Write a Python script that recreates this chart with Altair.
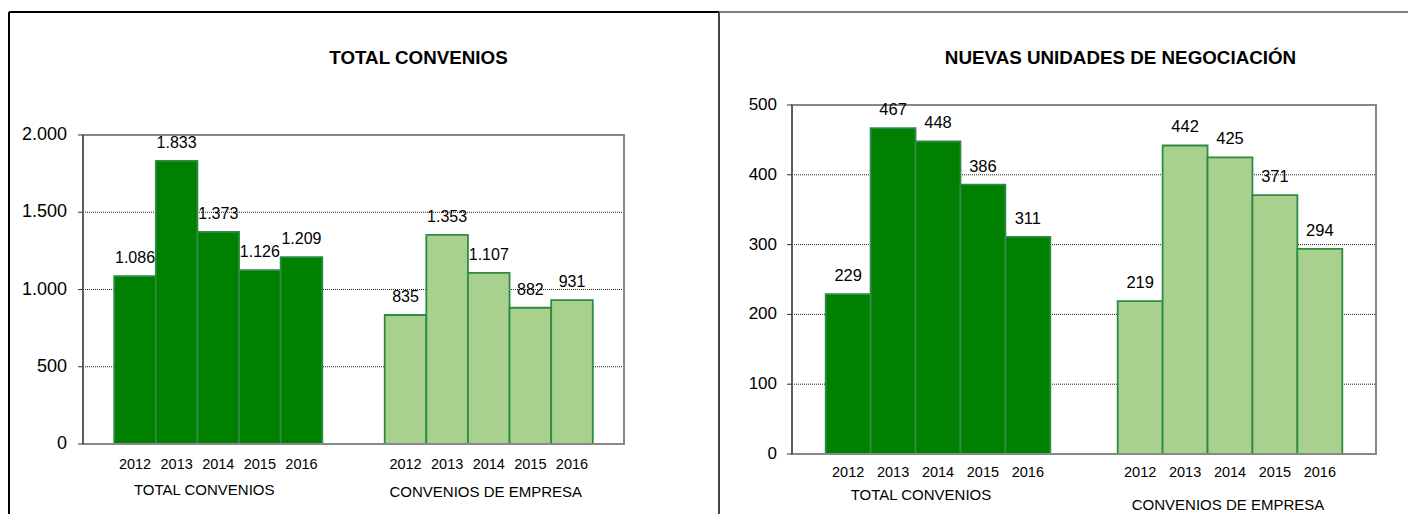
import altair as alt
import pandas as pd

# ---- data ----
years = ["2012", "2013", "2014", "2015", "2016"]
groups = ["TOTAL CONVENIOS", "CONVENIOS DE EMPRESA"]
total_convenios = [1086, 1833, 1373, 1126, 1209]
convenios_empresa = [835, 1353, 1107, 882, 931]
nuevas_total = [229, 467, 448, 386, 311]
nuevas_empresa = [219, 442, 425, 371, 294]
titles = ["TOTAL CONVENIOS", "NUEVAS UNIDADES DE NEGOCIACIÓN"]

FONT = "Liberation Sans"
DARK = "#008000"
LIGHT = "#A9D18E"
BAR_STROKE = "#2E8B45"
GROUP_START = [0.75, 7.25]  # 13-band layout: pad, 5 bars, gap, 5 bars, pad
NBANDS = 13


def build(series):
    rows = []
    for g, vals in enumerate(series):
        for i, (yr, v) in enumerate(zip(years, vals)):
            x0 = GROUP_START[g] + i
            rows.append({"group": groups[g], "year": yr, "value": v,
                         "x0": x0, "x1": x0 + 1, "xc": x0 + 0.5})
    return pd.DataFrame(rows)


group_df = pd.DataFrame({"group": groups, "gx": [s + 2.5 for s in GROUP_START]})
one = pd.DataFrame({"k": [0]})


def panel(df, title, ymax, ystep, xr, yr, lab_size, axis_size, lab_dx,
          title_xy, year_y, glab):
    xs = alt.Scale(domain=[0, NBANDS], range=xr, nice=False, zero=False)
    ys = alt.Scale(domain=[0, ymax], range=yr, nice=False)
    ticks = list(range(0, ymax + 1, ystep))
    grid_df = pd.DataFrame({"v": ticks[1:-1], "a": 0, "b": NBANDS})
    ax_df = pd.DataFrame({"v": ticks, "a": 0})
    box_df = pd.DataFrame({"a": [0], "b": [NBANDS], "lo": [0], "hi": [ymax]})

    def X(f):
        return alt.X(f, scale=xs, axis=None)

    def Y(f):
        return alt.Y(f, scale=ys, axis=None)

    grid = alt.Chart(grid_df).mark_rule(color="#222", strokeDash=[1, 1], strokeWidth=1).encode(
        x=X("a:Q"), x2="b:Q", y=Y("v:Q"))
    bars = alt.Chart(df).mark_bar(strokeWidth=1.8).encode(
        x=X("x0:Q"), x2="x1:Q", y=Y("value:Q"), y2=alt.datum(0),
        fill=alt.Fill("group:N", scale=alt.Scale(domain=groups, range=[DARK, LIGHT]), legend=None),
        stroke=alt.Stroke("group:N", scale=alt.Scale(domain=groups, range=[BAR_STROKE, BAR_STROKE]), legend=None),
    )
    box = alt.Chart(box_df).mark_rect(fill=None, stroke="#888", strokeWidth=2).encode(
        x=X("a:Q"), x2="b:Q", y=Y("lo:Q"), y2="hi:Q")
    domain = alt.Chart(box_df).mark_rule(color="#333", strokeWidth=1).encode(
        x=X("a:Q"), y=Y("lo:Q"), y2="hi:Q")
    tickm = alt.Chart(ax_df).mark_tick(orient="horizontal", size=5, thickness=1, xOffset=-2.5,
                                       color="#333", opacity=1).encode(x=X("a:Q"), y=Y("v:Q"))
    ticklab = alt.Chart(ax_df).mark_text(align="right", baseline="middle", dx=-lab_dx,
                                         fontSize=axis_size, font=FONT, color="black").encode(
        x=X("a:Q"), y=Y("v:Q"), text=alt.Text("v:Q", format=",.0f"))
    labels = alt.Chart(df).mark_text(baseline="alphabetic", dy=-13, fontSize=lab_size, font=FONT,
                                     color="black").encode(
        x=X("xc:Q"), y=Y("value:Q"), text=alt.Text("value:Q", format=",.0f"))
    year_lab = alt.Chart(df).mark_text(baseline="alphabetic", fontSize=14.5, font=FONT,
                                       color="black").encode(
        x=X("xc:Q"), y=alt.value(year_y), text="year:N")
    layers = [grid, bars, box, domain, tickm, ticklab, labels, year_lab]
    for g, (gy, gdx) in zip(groups, glab):
        layers.append(
            alt.Chart(group_df).transform_filter(alt.datum.group == g)
            .mark_text(baseline="alphabetic", fontSize=15, font=FONT, color="black", dx=gdx)
            .encode(x=X("gx:Q"), y=alt.value(gy), text="group:N"))
    layers.append(
        alt.Chart(pd.DataFrame({"t": [title]}))
        .mark_text(baseline="alphabetic", fontSize=18.8, fontWeight="bold", font=FONT, color="black")
        .encode(x=alt.value(title_xy[0]), y=alt.value(title_xy[1]), text="t:N"))
    return alt.layer(*layers)


def frame(kind, a, b, c, col):
    if kind == "h":
        enc = dict(x=alt.value(a), x2=alt.value(b), y=alt.value(c))
    else:
        enc = dict(x=alt.value(a), y=alt.value(b), y2=alt.value(c))
    return alt.Chart(one).mark_rule(color=col, strokeWidth=2).encode(**enc)


left = panel(build([total_convenios, convenios_empresa]), titles[0], 2000, 500,
             [75, 616], [436, 127], 16, 18, 16, (410.5, 56), 461,
             [(487, -14), (489, -3)])

right = panel(build([nuevas_total, nuevas_empresa]), titles[1], 500, 100,
              [784, 1368], [446, 97], 16.5, 17, 15, (1112.5, 56), 469,
              [(492, -17), (502, -2)])

frames = [frame("h", 1, 711, 4, "black"),
          frame("v", 1, 4, 506, "black"),
          frame("h", 711, 1400, 4, "#808080"),
          frame("v", 711, 4, 506, "#444")]

chart = (alt.layer(left, right, *frames)
         .resolve_scale(x="independent", y="independent")
         .properties(width=1400, height=506, padding=0, autosize="none")
         .configure(locale={"number": {"decimal": ",", "thousands": ".",
                                       "grouping": [3], "currency": ["", " €"]}})
         .configure_view(stroke=None))

chart.save("out.html", embed_options={"renderer": "svg", "actions": False})
